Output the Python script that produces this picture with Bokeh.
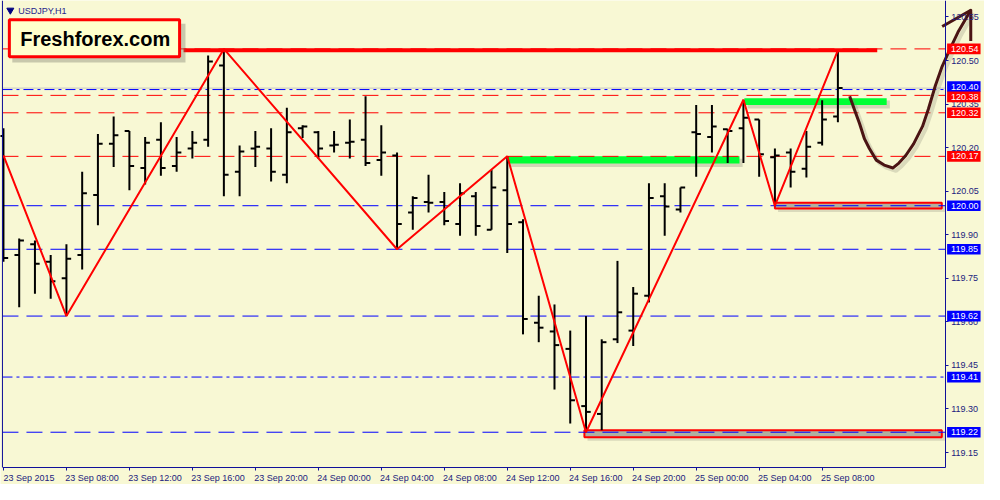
from bokeh.plotting import figure
from bokeh.models import Range1d, LinearAxis, FixedTicker, NumeralTickFormatter
from bokeh.embed import file_html
from bokeh.resources import INLINE
from bokeh.core.properties import value

# ---------------- data ----------------
symbol_label = "USDJPY,H1"
brand_text = "Freshforex.com"

time_tick_bars = [0, 4, 8, 12, 16, 20, 24, 28, 32, 36, 40, 44, 48, 52]
time_tick_labels = ["23 Sep 2015", "23 Sep 08:00", "23 Sep 12:00", "23 Sep 16:00",
                    "23 Sep 20:00", "24 Sep 00:00", "24 Sep 04:00", "24 Sep 08:00",
                    "24 Sep 12:00", "24 Sep 16:00", "24 Sep 20:00", "25 Sep 00:00",
                    "25 Sep 04:00", "25 Sep 08:00"]
price_ticks = [119.15, 119.30, 119.45, 119.60, 119.75, 119.90,
               120.05, 120.20, 120.35, 120.50, 120.65]

opens = [120.240, 119.830, 119.867, 119.807, 119.750, 119.830, 120.037, 120.213, 120.257, 120.130,
         120.227, 120.137, 120.197, 120.227, 120.483, 120.117, 120.197, 120.197, 120.107, 120.267,
         120.253, 120.207, 120.217, 120.227, 120.157, 120.173, 119.977, 120.013, 120.013, 119.937,
         120.033, 119.917, 120.053, 119.943, 119.597, 119.567, 119.507, 119.310, 119.283, 119.540,
         119.570, 119.690, 120.033, 119.987, 120.253, 120.237, 120.263, 120.267, 120.297, 120.167,
         120.183, 120.127, 120.217, 120.307]
highs = [120.267, 119.887, 119.880, 119.830, 119.867, 120.117, 120.247, 120.307, 120.257, 120.237,
         120.287, 120.237, 120.257, 120.517, 120.540, 120.207, 120.257, 120.267, 120.337, 120.277,
         120.257, 120.257, 120.297, 120.377, 120.277, 120.183, 120.033, 120.107, 120.047, 120.077,
         120.047, 120.123, 120.170, 119.953, 119.690, 119.660, 119.570, 119.620, 119.540, 119.810,
         119.720, 120.077, 120.077, 120.063, 120.347, 120.347, 120.263, 120.365, 120.297, 120.197,
         120.197, 120.257, 120.363, 120.535]
lows = [119.807, 119.650, 119.697, 119.680, 119.620, 119.780, 119.933, 120.133, 120.053, 120.073,
        120.103, 120.117, 120.163, 120.203, 120.033, 120.033, 120.133, 120.083, 120.077, 120.233,
        120.163, 120.183, 120.163, 120.137, 120.103, 119.850, 119.917, 119.977, 119.933, 119.897,
        119.897, 119.917, 119.837, 119.557, 119.530, 119.367, 119.250, 119.220, 119.227, 119.527,
        119.517, 119.667, 119.897, 119.977, 120.100, 120.183, 120.147, 120.147, 120.100, 120.000,
        120.063, 120.097, 120.207, 120.287]
closes = [119.820, 119.880, 119.800, 119.740, 119.817, 120.043, 120.213, 120.243, 120.137, 120.217,
          120.130, 120.183, 120.217, 120.497, 120.107, 120.187, 120.203, 120.117, 120.253, 120.273,
          120.197, 120.210, 120.220, 120.147, 120.183, 119.937, 120.027, 120.010, 119.947, 120.043,
          119.930, 120.063, 119.937, 119.610, 119.580, 119.520, 119.330, 119.290, 119.530, 119.633,
          119.697, 120.027, 119.997, 120.063, 120.247, 120.273, 120.257, 120.303, 120.177, 120.173,
          120.117, 120.203, 120.297, 120.405]

zigzag_bars = [0, 4, 14, 25, 32, 37, 47, 49, 53]
zigzag_prices = [120.173, 119.620, 120.540, 119.850, 120.170, 119.220, 120.365, 120.000, 120.535]

red_levels = [120.54, 120.38, 120.32, 120.17]
blue_dash_levels = [120.00, 119.85, 119.62, 119.22]
blue_dashdot_levels = [120.40, 119.41]
bid_price = 120.405

label_prices = [120.54, 120.40, 120.38, 120.32, 120.17, 120.00, 119.85, 119.62, 119.41, 119.22]
label_texts = ["120.54", "120.40", "120.38", "120.32", "120.17", "120.00", "119.85", "119.62", "119.41", "119.22"]
label_kinds = ["red", "blue", "red", "red", "red", "blue", "blue", "blue", "blue", "blue"]
label_shift = [0.0, 0.010, -0.005, 0.0, 0.0, 0.0, 0.0, 0.0, 0.0, 0.0]

resist_line_bars = [11.44, 55.5]
resist_line_price = 120.535

green_left = [32.0, 47.06]
green_right = [46.75, 56.1]
green_top = [120.170, 120.370]
green_bottom = [120.145, 120.347]

box_left = [49.0, 36.9]
box_right = [59.6, 59.6]
box_top = [120.010, 119.227]
box_bottom = [119.990, 119.203]

forecast_bars = [53.75, 54.06, 54.375, 54.69, 55.0, 55.44, 55.94, 56.5, 56.875, 57.31,
                 57.81, 58.375, 58.75, 59.19, 59.625, 60.125, 60.625, 61.44]
forecast_prices = [120.377, 120.330, 120.283, 120.230, 120.197, 120.157, 120.140, 120.130, 120.147,
                   120.173, 120.213, 120.273, 120.333, 120.413, 120.480, 120.540, 120.597, 120.673]
arrow_head_bars = [59.625, 61.44, 61.44]
arrow_head_prices = [120.617, 120.673, 120.567]

# ---------------- layout helpers (reference pixel -> data) ----------------
def bx(px):
    return (px - 3) / 16.0

def py(px):
    return 120.65 - (px - 17) / 300.0

BG = "#f8f8d4"
AXIS = "#10109a"
AXIS_TEXT = "#22227e"
FONT = "Liberation Sans"

W, H = 984, 484
p = figure(width=W, height=H, output_backend="svg", toolbar_location=None,
           x_range=Range1d(bx(0), bx(1000)), y_range=Range1d(py(500), py(0)),
           x_axis_location=None, y_axis_location=None,
           background_fill_color=BG, border_fill_color=BG, min_border=0)
p.min_border_left = p.min_border_right = p.min_border_top = p.min_border_bottom = 0
p.outline_line_color = None
p.grid.visible = False

x_left, x_right = bx(2), bx(960)

# zones (behind)
p.quad(left=[l + 0.2 for l in green_left], right=[r + 0.2 for r in green_right],
       top=[t - 0.008 for t in green_top], bottom=[b - 0.012 for b in green_bottom],
       fill_color="#808070", fill_alpha=0.3, line_color=None)
p.quad(left=green_left, right=green_right, top=green_top, bottom=green_bottom,
       fill_color="#00ff33", line_color=None)
p.quad(left=[l + 0.2 for l in box_left], right=[r + 0.2 for r in box_right],
       top=[t - 0.008 for t in box_top], bottom=[b - 0.012 for b in box_bottom],
       fill_color="#808070", fill_alpha=0.25, line_color=None)
p.quad(left=box_left, right=box_right, top=box_top, bottom=box_bottom,
       fill_color="#b0b0a0", line_color="#ff0000", line_width=2)

# horizontal levels
p.segment(x0=[x_left] * len(red_levels), x1=[x_right] * len(red_levels), y0=red_levels, y1=red_levels,
          line_color="#ff0000", line_width=1, line_dash="16 8")
p.segment(x0=[x_left] * len(blue_dash_levels), x1=[x_right] * len(blue_dash_levels),
          y0=blue_dash_levels, y1=blue_dash_levels, line_color="#0000ff", line_width=1, line_dash="16 8")
p.segment(x0=[x_left] * len(blue_dashdot_levels), x1=[x_right] * len(blue_dashdot_levels),
          y0=blue_dashdot_levels, y1=blue_dashdot_levels, line_color="#0000ff", line_width=1,
          line_dash="10 4 3 4")
p.segment(x0=[x_left], x1=[x_right], y0=[bid_price], y1=[bid_price], line_color="#c4c4c4", line_width=1)

# OHLC bars
idx = list(range(len(opens)))
p.segment(x0=idx, x1=idx, y0=lows, y1=highs, line_color="black", line_width=2)
p.segment(x0=[i - 0.3 for i in idx], x1=idx, y0=opens, y1=opens, line_color="black", line_width=2)
p.segment(x0=idx, x1=[i + 0.3 for i in idx], y0=closes, y1=closes, line_color="black", line_width=2)

# zigzag
p.line(zigzag_bars, zigzag_prices, line_color="#ff0000", line_width=2)

# thick resistance line
p.line(resist_line_bars, [resist_line_price] * 2, line_color="#ff0000", line_width=4)

# forecast curve with shadow
sx, sy = 3 / 16.0, -3 / 300.0
p.line([b + sx for b in forecast_bars], [v + sy for v in forecast_prices],
       line_color="#808070", line_alpha=0.25, line_width=4)
p.line(forecast_bars, forecast_prices, line_color="#4a1414", line_width=3, line_join="round")
p.line(arrow_head_bars, arrow_head_prices, line_color="#4a1414", line_width=3, line_join="round")

# left frame border
p.segment(x0=[x_left], x1=[x_left], y0=[py(482)], y1=[py(0)], line_color=AXIS, line_width=1)

# axes
ax_r = LinearAxis(fixed_location=x_right, ticker=FixedTicker(ticks=price_ticks),
                  formatter=NumeralTickFormatter(format="0.00"), bounds=(py(482), py(0)))
# time axis: tick marks at the bar, labels starting at the tick (MT4 style)
ax_b = LinearAxis(fixed_location=py(482), ticker=FixedTicker(ticks=time_tick_bars),
                  bounds=(x_left, x_right))
label_offset = 1.625
label_pos = [b + label_offset for b in time_tick_bars]
ax_bl = LinearAxis(fixed_location=py(482), ticker=FixedTicker(ticks=label_pos),
                   major_label_overrides={lp: lab for lp, lab in zip(label_pos, time_tick_labels)},
                   bounds=(x_left, x_right))
for ax in (ax_r, ax_b, ax_bl):
    ax.axis_line_color = AXIS
    ax.major_tick_line_color = AXIS
    ax.minor_tick_line_color = None
    ax.major_tick_in = 0
    ax.major_tick_out = 3
    ax.major_label_standoff = 3
    ax.major_label_text_font = FONT
    ax.major_label_text_font_size = "9px"
    ax.major_label_text_color = AXIS_TEXT
ax_b.major_label_text_color = None
ax_bl.axis_line_color = None
ax_bl.major_tick_line_color = None
ax_bl.major_tick_out = 0
ax_bl.major_label_standoff = 6
p.add_layout(ax_r, "right")
p.add_layout(ax_b, "below")
p.add_layout(ax_bl, "below")

# price label boxes (drawn over the axis)
col = {"red": "#ff0000", "blue": "#0000ff"}
ly = [lp + s for lp, s in zip(label_prices, label_shift)]
half = 5.5 / 300.0
r1 = p.quad(left=[bx(962)] * len(ly), right=[bx(996)] * len(ly),
            top=[v + half for v in ly], bottom=[v - half for v in ly],
            fill_color=[col[k] for k in label_kinds], line_color=None)
r1.level = "overlay"
r2 = p.text(x=[bx(966)] * len(ly), y=ly, text=label_texts, text_color="white",
            text_font=value(FONT), text_font_size="9px", text_baseline="middle", text_align="left")
r2.level = "overlay"

# logo
r3 = p.quad(left=[bx(12)], right=[bx(188)], top=[py(24)], bottom=[py(64)],
            fill_color="#707060", fill_alpha=0.35, line_color=None)
r3.level = "overlay"
r4 = p.quad(left=[bx(9)], right=[bx(182)], top=[py(20)], bottom=[py(58)],
            fill_color="#ffffcc", line_color="#ff0000", line_width=3)
r4.level = "overlay"
r5 = p.text(x=[bx(20)], y=[py(40)], text=[brand_text], text_color="black",
            text_font=value(FONT), text_font_size="20px", text_font_style="bold",
            text_baseline="middle", text_align="left")
r5.level = "overlay"

# symbol caption
p.scatter(x=[bx(10)], y=[py(10)], marker="inverted_triangle", size=7,
          fill_color="#000080", line_color="#000080")
p.text(x=[bx(18)], y=[py(11)], text=[symbol_label], text_color="#1e1e8c",
       text_font=value(FONT), text_font_size="9px", text_baseline="middle", text_align="left")

open("out.html", "w").write(file_html(p, INLINE))
